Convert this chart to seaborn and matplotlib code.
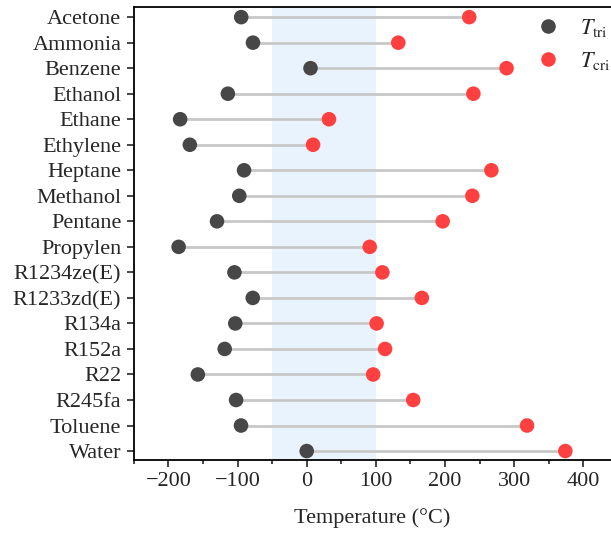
import seaborn as sns
import matplotlib.pyplot as plt
import pandas as pd
from matplotlib.ticker import MultipleLocator

fluids = ['Acetone', 'Ammonia', 'Benzene', 'Ethanol', 'Ethane', 'Ethylene', 'Heptane',
          'Methanol', 'Pentane', 'Propylen', 'R1234ze(E)', 'R1233zd(E)', 'R134a',
          'R152a', 'R22', 'R245fa', 'Toluene', 'Water']
t_tri = [-94.7, -77.7, 5.5, -114.0, -183.0, -169.0, -90.6, -97.5, -129.7, -185.2,
         -104.5, -78.0, -103.3, -118.6, -157.4, -102.1, -95.0, 0.01]
t_cri = [235.0, 132.4, 289.0, 241.0, 32.2, 9.2, 267.0, 239.5, 196.6, 91.1,
         109.4, 166.5, 101.1, 113.3, 96.1, 154.0, 318.6, 374.0]

sns.set_style('ticks')
plt.rcParams['font.family'] = ['Liberation Serif', 'DejaVu Serif']
plt.rcParams['mathtext.fontset'] = 'stix'

df = pd.DataFrame({'fluid': fluids * 2,
                   'T': t_tri + t_cri,
                   'kind': ['$T_{\\mathrm{tri}}$'] * len(fluids) + ['$T_{\\mathrm{cri}}$'] * len(fluids)})

fig = plt.figure(figsize=(6.11, 5.33), dpi=100)
ax = fig.add_axes([0.219, 0.137, 0.781, 0.85])

# comfortable range band
ax.axvspan(-50, 100, color='#e8f3fd', zorder=0, lw=0)
ax.hlines(fluids, t_tri, t_cri, color='#c8c8c8', lw=2, zorder=1)

sns.scatterplot(data=df, x='T', y='fluid', hue='kind',
                palette=['#474747', '#ff4040'], s=110, linewidth=0,
                zorder=3, ax=ax)

ax.set_xlim(-250, 440)
ax.set_ylim(17.35, -0.4)
ax.xaxis.set_major_locator(MultipleLocator(100))
ax.xaxis.set_minor_locator(MultipleLocator(50))
ax.tick_params(labelsize=16, width=1.2, length=5, pad=4)
ax.tick_params(which='minor', width=1.2, length=3)
ax.set_xlabel('Temperature (°C)', fontsize=16, labelpad=12)
ax.set_ylabel('')
for s in ['left', 'bottom', 'top']:
    ax.spines[s].set_linewidth(1.3)
    ax.spines[s].set_color('black')
ax.spines['right'].set_visible(False)

ax.legend(title=None, frameon=False, fontsize=16, loc='upper right',
          bbox_to_anchor=(1.04, 1.023), handletextpad=0.4, labelspacing=0.5,
          markerscale=1.0)

fig.savefig('out.png', dpi=100)
